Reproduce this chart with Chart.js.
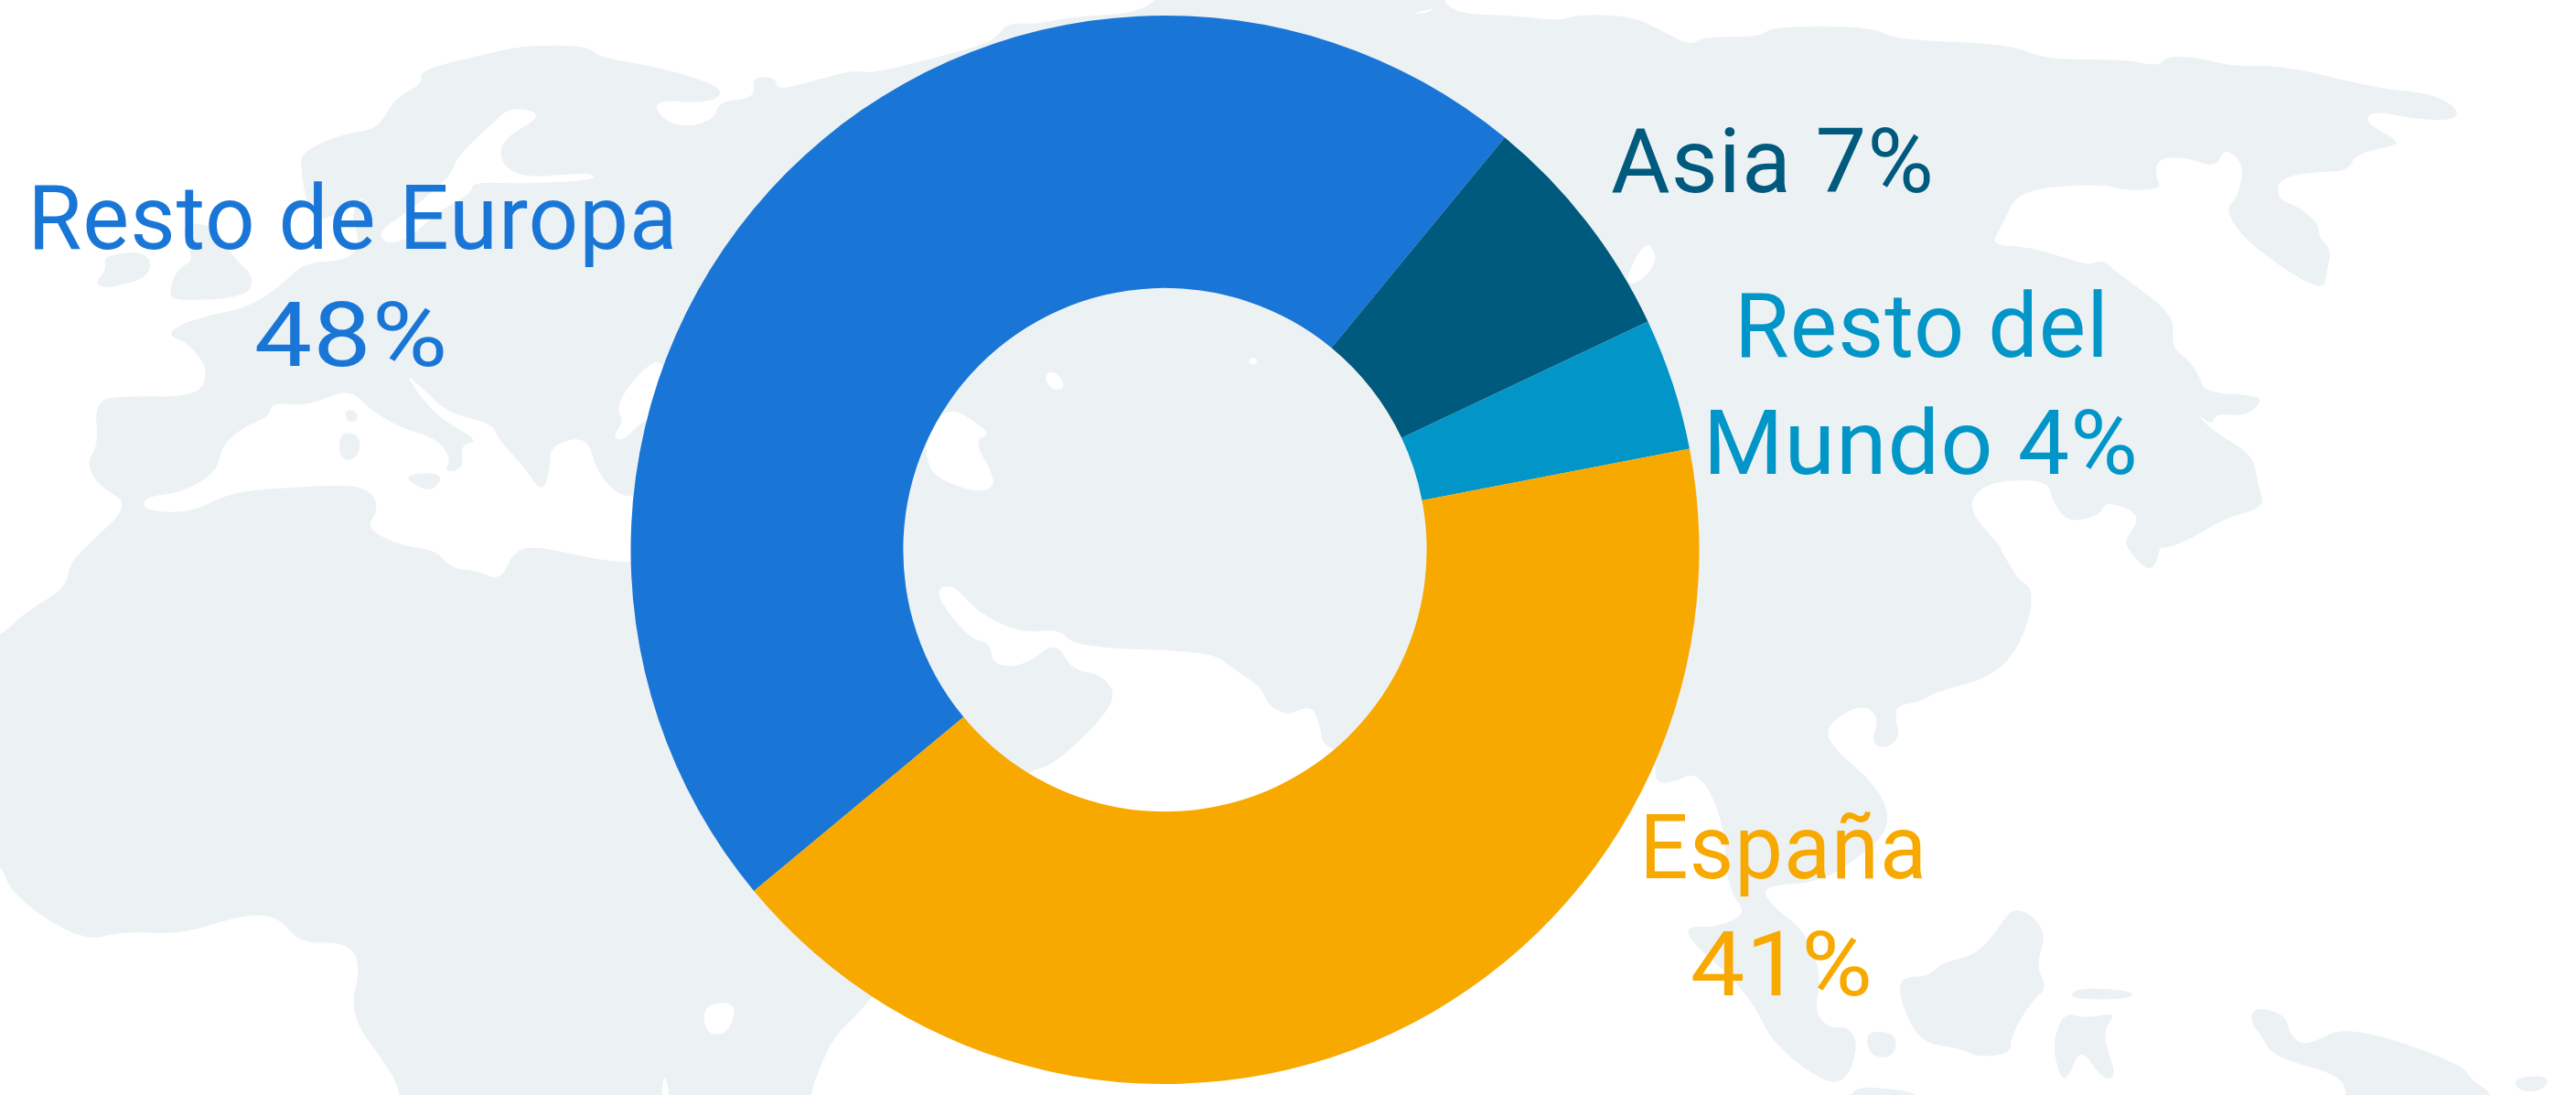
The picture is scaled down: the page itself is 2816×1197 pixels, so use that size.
<!DOCTYPE html>
<html><head><meta charset="utf-8">
<style>html,body{margin:0;padding:0;background:#fff;overflow:hidden}canvas{display:block}</style>
<script src="https://cdn.jsdelivr.net/npm/chart.js@4"></script>
</head><body><canvas id="c" width="2816" height="1197"></canvas>
<script>
const categories = ["Resto de Europa", "Asia", "Resto del Mundo", "España"];
const sliceValues = [47, 7, 4, 42];
const sliceColors = ["#1a76d6", "#005a7e", "#0295c7", "#f7a900"];
const labelLines = [["Resto de Europa", "48%"], ["Asia 7%"], ["Resto del", "Mundo 4%"], ["España", "41%"]];
const labelPlacement = [[[38,735,272],[280,485,400]], [[1762,2110,210]], [[1904,2298,390],[1870,2333,518]], [[1800,2101,960],[1850,2043,1088]]];

const MAP = "#ecf1f4";
const F = {a:[0,0], b:[1408,0], c:[0,597], d:[1408,597]};
const land = [[
 ["a",[510,200,600,150,640,130,715,130,730,165,800,190,870,240,880,270,860,295,795,285,805,340,835,365,870,340,875,290,920,280,915,220,945,220,945,260,1000,225,1040,200,1060,210,1130,170,1210,120,1225,65,1260,70,1300,50,1415,30,1415,-150]],
 ["b",[185,-150,185,0,210,40,280,45,330,60,350,42,420,45,460,95,490,130,505,105,575,105,590,75,710,75,740,115,880,125,920,170,1020,170,1060,190,1070,160,1110,165,1150,190,1210,185,1330,255,1390,265,1425,310,1420,345,1370,340,1320,315,1310,350,1355,405,1340,420,1300,440,1290,490,1250,490,1205,510,1205,570,1230,590,1255,640,1255,680,1270,710,1265,770,1260,840,1170,700,1140,600,1155,570,1165,470,1140,420,1130,480,1095,450,1060,450,1055,500,1065,540,1020,545,990,525,890,540,870,640,855,700,895,705,925,720,975,760,990,740,1010,780,1080,900,1075,990,1095,1025,1110,1075,1115,1120,1180,1130,1185,1150,1165,1190,1130,1180,1125,1215,1105,1180,1125,1230,1175,1300,1180,1380,1190,1450,1140,1480,1100,1540,1065,1568]],
 ["d",[1062,0,1055,65,1040,60,1020,0]],
 ["b",[1020,1540,1040,1470,995,1430,990,1470,950,1495,930,1430,925,1370,850,1375,825,1450,870,1568]],
 ["d",[865,0,890,100,905,115,905,190,885,310,850,380,790,415,770,445,740,455,740,500,745,550,725,580,710,560,720,490,700,450,660,500,655,560,720,690,735,800,700,880,650,960,575,970,590,1030,630,1100,650,1230,640,1330,660,1380,680,1370,695,1420,680,1530,650,1530,590,1420,570,1320,540,1230,490,1130,485,1085,520,1090,560,1050,535,980,530,780,500,640,465,680,445,670,450,600,300,700,45,600,38,500,28,455,0,480]],
 ["c",[1568,480,1545,460,1535,400,1500,350,1475,300,1310,290,1290,235,1245,250,1190,190,1160,105,1135,130,1180,265,1205,275,1210,345,1250,340,1285,270,1305,355,1340,365,1360,425,1335,510,1280,630,1250,640,1200,800,1065,1290,1015,1400,1000,1480,985,1568,985,1800,495,1800,490,1568,470,1480,425,1340,440,1190,420,1130,365,1135,340,1060,300,1050,220,1110,150,1100,100,1130,15,1000,0,900,-30,900,-30,260,0,260,30,190,80,120,85,50,105,0]],
 ["a",[160,1440,120,1390,105,1320,120,1270,115,1150,145,1130,240,1135,255,1060,230,980,205,960,215,930,255,900,300,880,340,820,370,750,420,745,440,700,425,600,455,545,390,640,375,600,365,470,370,430,420,380,460,370,480,280,515,240]]
],[["a",[125,730,180,715,185,790,130,825,115,810,130,770]]],
 [["a",[220,640,260,640,285,740,310,790,300,850,215,860,205,840,215,770,235,745,230,710]]]];
const water = [
 [["a",[175,1420,225,1405,265,1345,270,1270,300,1215,328,1190,330,1150,375,1160,425,1108,450,1170,490,1225,530,1250,550,1310,540,1350,565,1340,560,1270,585,1260,530,1190,490,1060,515,1110,545,1180,600,1210,605,1250,640,1340,660,1410,670,1340,670,1270,715,1245,725,1340,750,1410,770,1420,900,1420,900,1568]],["c",[770,55,690,20,650,0,625,15,610,100,580,70,550,65,530,10,490,0]],["a",[445,1510,460,1460,455,1410,430,1385,370,1390,280,1405,235,1465,175,1460]]],
 [["a",[555,450,605,340,620,310,650,315,655,340,610,400,610,470,640,510,720,490,725,515,640,525,575,520,575,550,530,610,500,680,470,700,460,660,500,600,550,500]]],
 [["a",[800,1020,810,1060,900,1100,900,1200,790,1180,760,1260,745,1250,760,1200,750,1170,765,1100]]],
 [["a",[1275,1060,1290,1070,1297,1110,1282,1115,1272,1085]]],
 [["a",[1160,1165,1190,1210,1205,1240,1185,1260,1215,1380,1195,1410,1140,1370,1125,1300,1135,1200]]],
 [["a",[1520,1025,1530,1020,1530,1040,1522,1042]]],
 [["b",[435,685,450,730,440,780,420,815,410,800]]],
 [["b",[150,40,180,20,170,38]]],
 [["c",[855,1320,880,1300,897,1320,885,1395,860,1395]]],
 [["c",[808,1490,818,1600,805,1600]]]
];
const islands = [
 [["a",[420,1170,435,1175,435,1205,422,1205]]],
 [["a",[415,1235,438,1240,438,1300,420,1320,412,1290]]],
 [["a",[490,1355,540,1350,530,1400,510,1395]]],
 [["d",[885,1020,925,1095,910,1200,925,1260,905,1300,880,1400,880,1450,840,1460,820,1435,770,1420,745,1300,745,1230,780,1230,795,1190,835,1170,860,1110]]],
 [["d",[960,1260,1030,1270,1025,1295,950,1295]]],
 [["d",[945,1330,970,1350,1010,1330,990,1390,1010,1520,990,1520,965,1430,950,1520,940,1520,930,1420]]],
 [["d",[1180,1315,1215,1340,1220,1400,1240,1430,1290,1365,1430,1480,1440,1525,1470,1568,1470,1750,1290,1750,1290,1568,1280,1510,1200,1460,1185,1400,1170,1350]]],
 [["d",[1490,1520,1535,1510,1530,1555,1500,1560]]],
 [["d",[705,1385,740,1390,740,1450,720,1465,705,1440]]],
 [["d",[680,1550,720,1545,780,1568,780,1700,680,1700]]]
];
function pts(shape){const o=[];for(const [f,l] of shape){for(let i=0;i<l.length;i+=2){o.push([F[f][0]+l[i]/1.1136,F[f][1]+l[i+1]/2.6133]);}}return o;}
function blob(ctx,shape,color){const p=pts(shape);const n=p.length;ctx.beginPath();
 const mid=(a,b)=>[(a[0]+b[0])/2,(a[1]+b[1])/2];let m=mid(p[n-1],p[0]);ctx.moveTo(m[0],m[1]);
 for(let i=0;i<n;i++){const q=mid(p[i],p[(i+1)%n]);ctx.quadraticCurveTo(p[i][0],p[i][1],q[0],q[1]);}
 ctx.closePath();ctx.fillStyle=color;ctx.fill();}
const mapPlugin={id:"map",beforeDraw(ch){const x=ch.ctx;x.save();x.fillStyle="#fff";x.fillRect(0,0,ch.width,ch.height);
 land.forEach(s=>blob(x,s,MAP));water.forEach(s=>blob(x,s,"#fff"));islands.forEach(s=>blob(x,s,MAP));x.restore();}};
const labelPlugin={id:"labels",afterDraw(ch){const x=ch.ctx;x.save();x.font='400 98px Roboto, sans-serif';x.textAlign="left";x.textBaseline="alphabetic";x.letterSpacing="1px";
 labelLines.forEach((lines,i)=>{x.fillStyle=sliceColors[i];lines.forEach((t,j)=>{const [l,r,y]=labelPlacement[i][j];
  const m=x.measureText(t);const ink=m.actualBoundingBoxRight+m.actualBoundingBoxLeft;const sx=(r-l)/ink;
  x.save();x.translate(l,y);x.scale(sx,1);x.fillText(t,m.actualBoundingBoxLeft,0);x.restore();});});x.restore();}};
new Chart(document.getElementById("c"),{type:"doughnut",
 data:{labels:categories,datasets:[{data:sliceValues,backgroundColor:sliceColors,borderWidth:0}]},
 options:{responsive:false,animation:false,rotation:230.3,cutout:"49%",
  layout:{padding:{left:0,right:2816-2547,top:17,bottom:12}},
  plugins:{legend:{display:false},tooltip:{enabled:false}}},
 plugins:[mapPlugin,labelPlugin]});
</script></body></html>
